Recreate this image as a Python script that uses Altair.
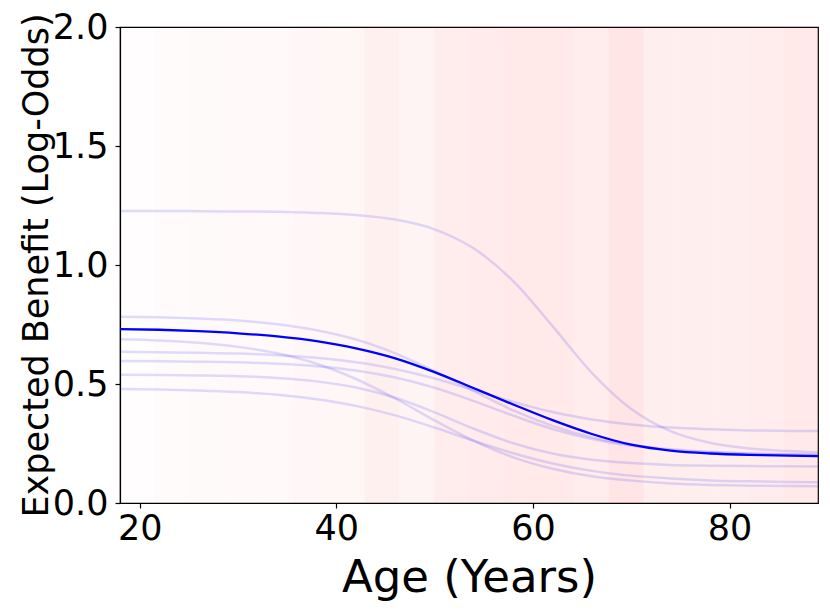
import altair as alt
import pandas as pd

# ---- data ----
ages = [18, 22, 26, 30, 34, 38, 42, 46, 50, 54, 58, 62, 66, 70, 74, 78, 82, 86, 89]

mean_benefit = [0.731, 0.728, 0.722, 0.713, 0.700, 0.680, 0.650, 0.608, 0.550, 0.482,
                0.414, 0.348, 0.290, 0.245, 0.220, 0.208, 0.202, 0.199, 0.197]

sample_a = [1.227, 1.227, 1.226, 1.225, 1.224, 1.219, 1.210, 1.191, 1.150, 1.069,
            0.932, 0.743, 0.547, 0.395, 0.302, 0.253, 0.229, 0.218, 0.212]
sample_b = [0.783, 0.780, 0.775, 0.767, 0.751, 0.726, 0.687, 0.629, 0.554, 0.470,
            0.389, 0.324, 0.276, 0.245, 0.226, 0.215, 0.208, 0.205, 0.203]
sample_c = [0.688, 0.683, 0.673, 0.656, 0.629, 0.585, 0.521, 0.439, 0.347, 0.261,
            0.192, 0.144, 0.112, 0.094, 0.082, 0.076, 0.073, 0.071, 0.070]
sample_d = [0.635, 0.633, 0.631, 0.628, 0.621, 0.610, 0.591, 0.563, 0.523, 0.474,
            0.425, 0.382, 0.351, 0.330, 0.317, 0.310, 0.305, 0.303, 0.302]
sample_e = [0.597, 0.596, 0.594, 0.591, 0.585, 0.575, 0.557, 0.527, 0.484, 0.428,
            0.367, 0.311, 0.269, 0.240, 0.223, 0.213, 0.207, 0.204, 0.202]
sample_f = [0.539, 0.538, 0.536, 0.533, 0.525, 0.511, 0.485, 0.442, 0.381, 0.312,
            0.251, 0.208, 0.182, 0.168, 0.160, 0.157, 0.155, 0.154, 0.153]
sample_g = [0.479, 0.477, 0.473, 0.466, 0.455, 0.436, 0.408, 0.368, 0.317, 0.261,
            0.209, 0.166, 0.135, 0.115, 0.103, 0.095, 0.091, 0.088, 0.087]

samples = {"a": sample_a, "b": sample_b, "c": sample_c, "d": sample_d,
           "e": sample_e, "f": sample_f, "g": sample_g}

# age histogram shading (20 bins)
bin_edges = [18.0, 21.55, 25.1, 28.65, 32.2, 35.75, 39.3, 42.85, 46.4, 49.95, 53.5,
             57.05, 60.6, 64.15, 67.7, 71.25, 74.8, 78.35, 81.9, 85.45, 89.0]
bin_alpha = [0.008, 0.015, 0.02, 0.025, 0.025, 0.03, 0.035, 0.06, 0.045, 0.07,
             0.08, 0.085, 0.085, 0.075, 0.10, 0.065, 0.065, 0.065, 0.072, 0.088]

x_ticks = [20, 40, 60, 80]
y_ticks = [0.0, 0.5, 1.0, 1.5, 2.0]

# ---- tables ----
bands = pd.DataFrame({"start": bin_edges[:-1], "end": bin_edges[1:], "alpha": bin_alpha})
rows = []
for name, vals in samples.items():
    for a, v in zip(ages, vals):
        rows.append({"curve": name, "age": a, "benefit": v})
lines_df = pd.DataFrame(rows)
mean_df = pd.DataFrame({"age": ages, "benefit": mean_benefit})

FONT = "DejaVu Sans"
xscale = alt.Scale(domain=[18, 89], nice=False, zero=False)
yscale = alt.Scale(domain=[0, 2], nice=False)

xaxis = alt.Axis(title="Age (Years)", values=x_ticks, format="d", grid=False,
                 labelFontSize=35, titleFontSize=45, labelPadding=3,
                 titleY=88, titleBaseline="alphabetic")
yaxis = alt.Axis(title="Expected Benefit (Log-Odds)", values=y_ticks, format=".1f",
                 grid=False, labelFontSize=35, titleFontSize=35, labelPadding=7,
                 titleX=-73, titleY=238, titleAngle=-90, titleBaseline="alphabetic",
                 titleAlign="center")

band_layer = alt.Chart(bands).mark_rect(color="red").encode(
    x=alt.X("start:Q", scale=xscale, axis=xaxis),
    x2="end:Q",
    y=alt.datum(0, scale=yscale, axis=yaxis),
    y2=alt.datum(2),
    opacity=alt.Opacity("alpha:Q", scale=None, legend=None),
)

sample_layer = alt.Chart(lines_df).mark_line(
    color="blue", opacity=0.13, strokeWidth=2.5, interpolate="monotone"
).encode(
    x=alt.X("age:Q", scale=xscale),
    y=alt.Y("benefit:Q", scale=yscale),
    detail="curve:N",
)

mean_layer = alt.Chart(mean_df).mark_line(
    color="blue", strokeWidth=2.3, interpolate="monotone"
).encode(
    x=alt.X("age:Q", scale=xscale),
    y=alt.Y("benefit:Q", scale=yscale),
)

chart = alt.layer(band_layer, sample_layer, mean_layer).properties(
    width=698, height=476,
    autosize=alt.AutoSizeParams(type="none"),
    padding={"left": 112, "top": 19, "right": 4, "bottom": 100},
).configure_view(
    stroke="black", strokeWidth=1.2
).configure_axis(
    labelFont=FONT, titleFont=FONT, labelColor="black", titleColor="black",
    domainColor="black", tickColor="black", tickSize=5, tickWidth=1.2,
    domainWidth=1.2, titleFontWeight="normal"
)

chart.save("out.html", embed_options={"renderer": "svg", "actions": False})
